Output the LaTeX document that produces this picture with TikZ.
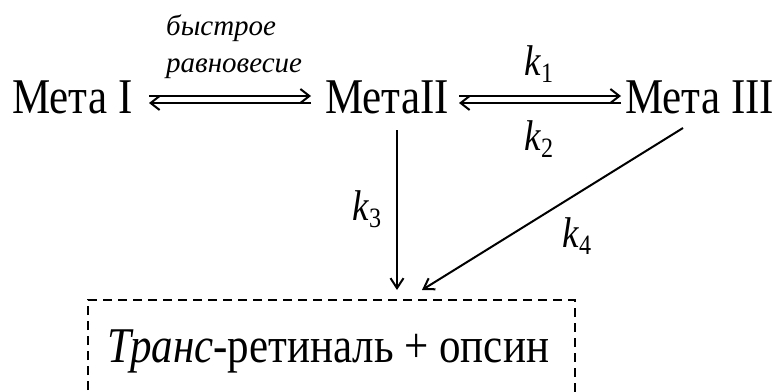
\documentclass[tikz,border=0pt]{standalone}
\usepackage{fontspec}
\setmainfont{Liberation Serif}
\newfontfamily\tnr[FakeStretch=0.86]{Liberation Serif}
\newfontfamily\tni{Liberation Serif}
\usetikzlibrary{arrows.meta}
\newcommand{\kk}[1]{\textit{k}\raisebox{-7pt}{\fontsize{28}{32}\selectfont #1}}
\begin{document}
\begin{tikzpicture}[x=1pt,y=1pt,
  big/.style={font=\tnr\fontsize{50}{58}\selectfont, inner sep=0pt},
  small/.style={font=\tni\fontsize{29}{34}\selectfont\itshape, inner sep=0pt},
  klab/.style={font=\tnr\fontsize{43}{50}\selectfont, inner sep=0pt},
  arr/.style={line width=2pt, -{Straight Barb[length=9pt,width=14pt]}},
  conn/.style={line width=2pt, -{Straight Barb[length=10pt,width=13pt]}}]
\useasboundingbox (0,0) rectangle (776,-391);
\begin{scope}
\clip (0,0) rectangle (776,-391);
\node[big, anchor=base west] (m1) at (12,-113) {Мета I};
\node[big, anchor=base west] (m2) at (325,-113) {МетаII};
\node[big, anchor=base west] (m3) at (625,-113) {Мета III};
\node[small, anchor=base west] (fast1) at (166,-35) {быстрое};
\node[small, anchor=base west] (fast2) at (166,-72) {равновесие};
% equilibrium arrows
\coordinate (a1s) at (149,-96);
\coordinate (a1e) at (311,-96);
\coordinate (b1s) at (149,-103);
\coordinate (b1e) at (311,-103);
\draw[arr] (a1s) -- (a1e);
\draw[arr] (b1e) -- (b1s);
\coordinate (a2s) at (459,-96);
\coordinate (a2e) at (621,-96);
\coordinate (b2s) at (459,-103);
\coordinate (b2e) at (621,-103);
\draw[arr] (a2s) -- (a2e);
\draw[arr] (b2e) -- (b2s);
\node[klab, anchor=base west] (k1) at (524,-75) {\kk{1}};
\node[klab, anchor=base west] (k2) at (524,-150) {\kk{2}};
% box
\node[big, anchor=base west] (tr) at (107,-362) {\textit{Транс}-ретиналь + опсин};
\draw[line width=2pt, dash pattern=on 9pt off 6pt] (88,-420) -- (88,-300) -- (575,-300) -- (575,-420);
\coordinate (bx1) at (397,-290);
\coordinate (bx2) at (422,-290);
\coordinate (v0) at (397,-130);
\coordinate (d0) at (683,-128);
\draw[conn] (v0) -- (bx1);
\draw[conn] (d0) -- (bx2);
\node[klab, anchor=base west] (k3) at (352,-220) {\kk{3}};
\node[klab, anchor=base west] (k4) at (562,-247) {\kk{4}};
\end{scope}
\end{tikzpicture}
\end{document}
